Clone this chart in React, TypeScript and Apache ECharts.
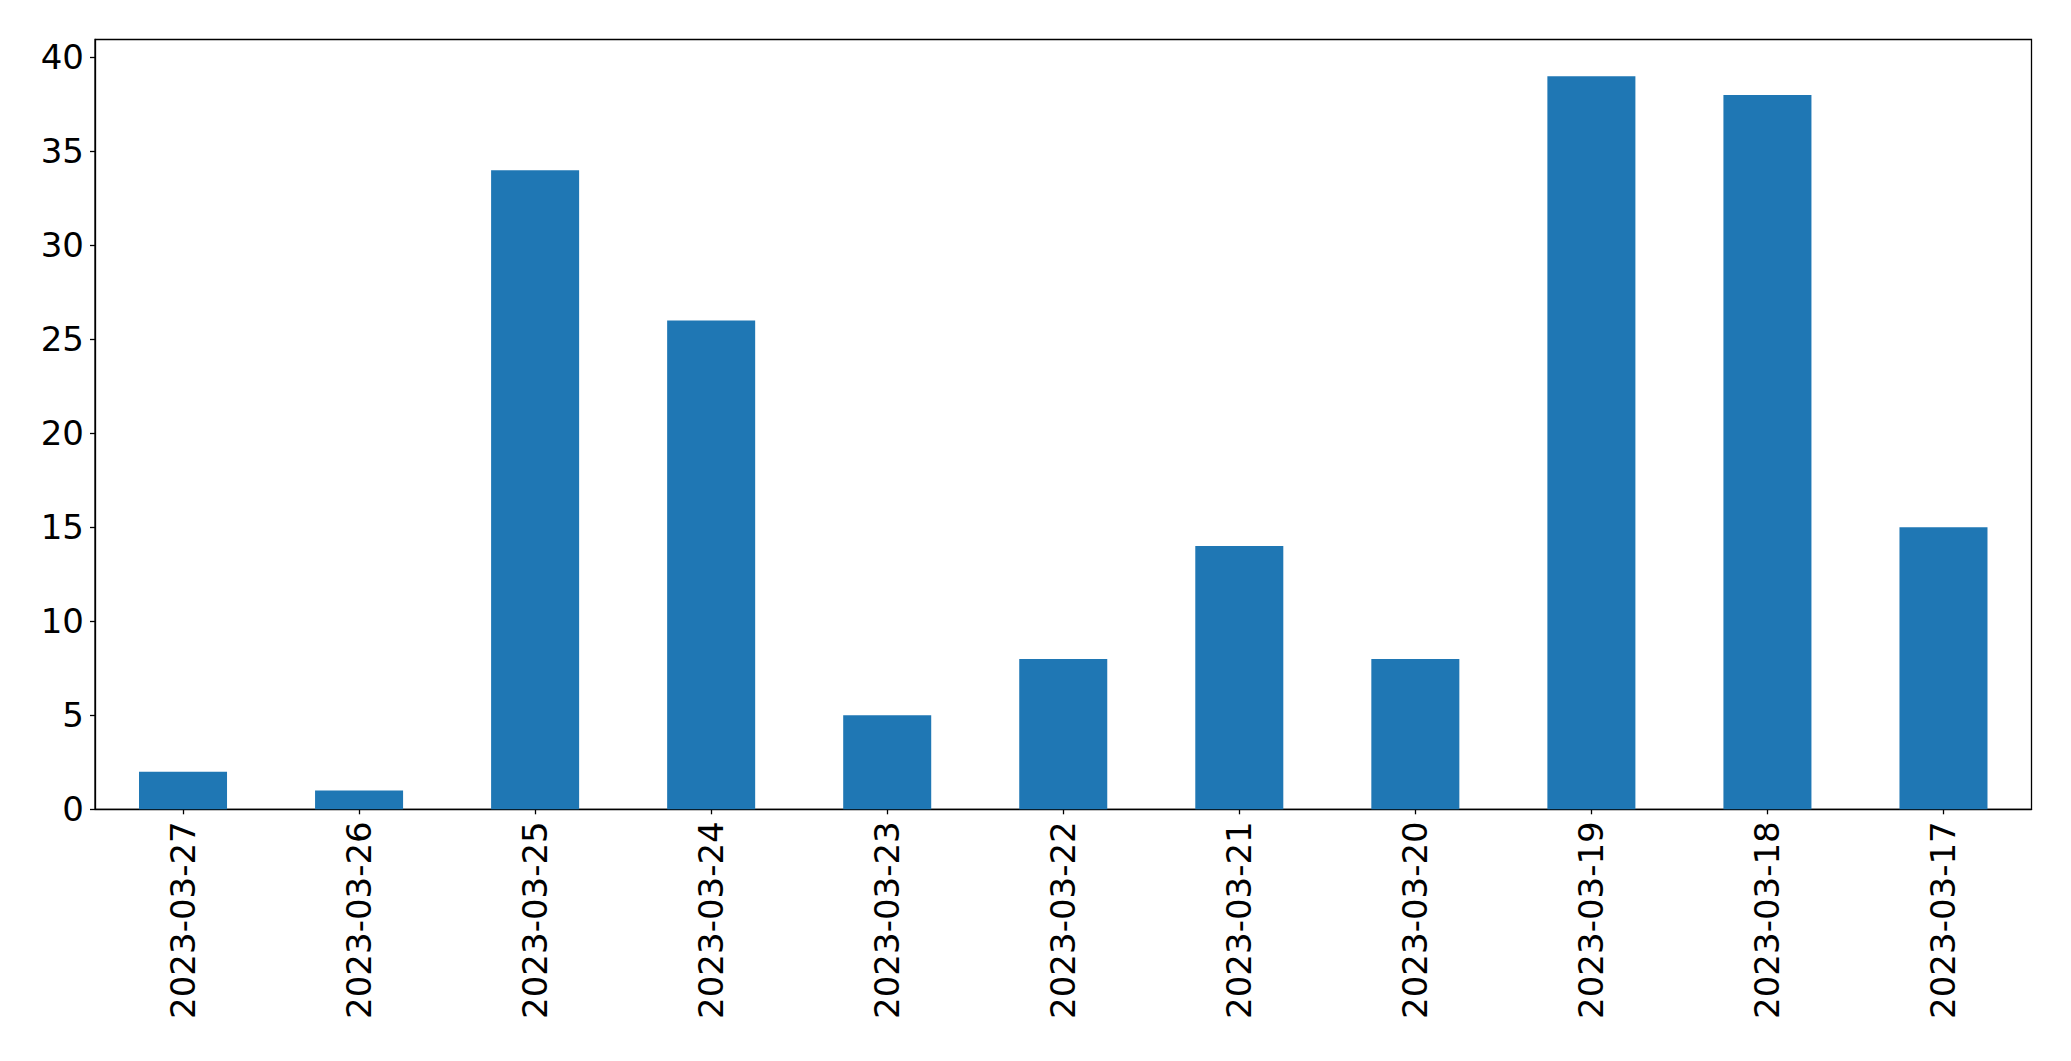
import React, { useEffect, useRef } from "react";
import * as echarts from "echarts";

const categories = [
  "2023-03-27", "2023-03-26", "2023-03-25", "2023-03-24", "2023-03-23", "2023-03-22",
  "2023-03-21", "2023-03-20", "2023-03-19", "2023-03-18", "2023-03-17",
];
const values = [2, 1, 34, 26, 5, 8, 14, 8, 39, 38, 15];
const yMax = 40.95;
const yInterval = 5;

export default function App() {
  const ref = useRef<HTMLDivElement>(null);
  useEffect(() => {
    if (!ref.current) return;
    const chart = echarts.init(ref.current, null, { renderer: "svg" });
    const font = "DejaVu Sans";
    chart.setOption({
      animation: false,
      backgroundColor: "#ffffff",
      grid: {
        left: 95,
        right: 39.5,
        top: 39.5,
        bottom: 251.7,
        show: true,
        borderColor: "#000",
        borderWidth: 1.3,
        containLabel: false,
      },
      xAxis: {
        type: "category",
        data: categories,
        axisLine: { show: true, lineStyle: { color: "#000", width: 1.3 } },
        axisTick: { show: true, alignWithLabel: true, length: 5, lineStyle: { color: "#000", width: 1.3 } },
        axisLabel: {
          rotate: 90,
          margin: 12,
          fontSize: 34,
          fontFamily: font,
          color: "#000",
          interval: 0,
        },
        splitLine: { show: false },
      },
      yAxis: {
        type: "value",
        min: 0,
        max: yMax,
        interval: yInterval,
        axisLine: { show: true, lineStyle: { color: "#000", width: 1.3 } },
        axisTick: { show: true, length: 5, lineStyle: { color: "#000", width: 1.3 } },
        axisLabel: {
          margin: 11,
          fontSize: 34,
          fontFamily: font,
          color: "#000",
          showMaxLabel: false,
          formatter: (v: number) => (v % yInterval === 0 ? String(v) : ""),
        },
        splitLine: { show: false },
      },
      series: [
        {
          type: "bar",
          data: values,
          barWidth: "50%",
          itemStyle: { color: "#1f77b4" },
        },
      ],
    });
    return () => chart.dispose();
  }, []);
  return (
    <div
      ref={ref}
      style={{ position: "fixed", left: 0, top: 0, width: 2071, height: 1061, background: "#fff" }}
    />
  );
}
